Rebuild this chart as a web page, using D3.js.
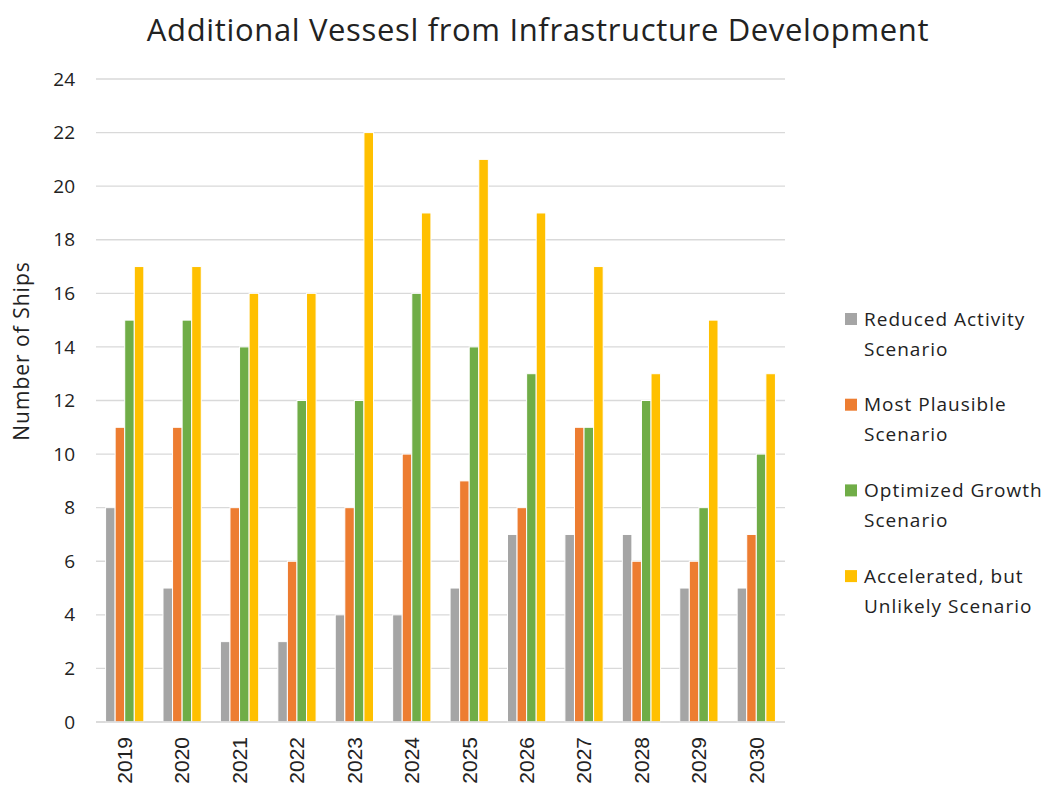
<!DOCTYPE html>
<html>
<head>
<meta charset="utf-8">
<script src="https://cdn.jsdelivr.net/npm/d3@7"></script>
<style>
  body { margin: 0; background: #fff; }
</style>
</head>
<body>
<div id="root"></div>
<script>
var years = ["2019", "2020", "2021", "2022", "2023", "2024", "2025", "2026", "2027", "2028", "2029", "2030"];
var seriesNames = [
  ["Reduced Activity", "Scenario"],
  ["Most Plausible", "Scenario"],
  ["Optimized Growth", "Scenario"],
  ["Accelerated, but", "Unlikely Scenario"]
];
var reduced = [8, 5, 3, 3, 4, 4, 5, 7, 7, 7, 5, 5];
var plausible = [11, 11, 8, 6, 8, 10, 9, 8, 11, 6, 6, 7];
var optimized = [15, 15, 14, 12, 12, 16, 14, 13, 11, 12, 8, 10];
var accelerated = [17, 17, 16, 16, 22, 19, 21, 19, 17, 13, 15, 13];
var yTicks = [0, 2, 4, 6, 8, 10, 12, 14, 16, 18, 20, 22, 24];

var colors = ["#A5A5A5", "#ED7D31", "#70AD47", "#FFC000"];
var allSeries = [reduced, plausible, optimized, accelerated];
var font = "'Open Sans', sans-serif";

var w = 1048, h = 789;
var margin = {top: 79, right: 263, bottom: 67, left: 96};
var innerW = w - margin.left - margin.right;
var innerH = h - margin.top - margin.bottom;

var svg = d3.select("#root").append("svg").attr("width", w).attr("height", h);
svg.append("rect").attr("width", w).attr("height", h).attr("fill", "white");

var g = svg.append("g").attr("transform", "translate(" + margin.left + "," + margin.top + ")");

var x0 = d3.scaleBand().domain(years).range([0, innerW]).paddingInner(1 / 3).paddingOuter(1 / 6);
var x1 = d3.scaleBand().domain(d3.range(4)).range([0, x0.bandwidth()]);
var y = d3.scaleLinear().domain([0, 24]).range([innerH, 0]);

// gridlines
g.selectAll(".grid").data(yTicks).enter().append("line")
  .attr("x1", 0).attr("x2", innerW)
  .attr("y1", function(d) { return y(d); }).attr("y2", function(d) { return y(d); })
  .attr("stroke", "#d9d9d9").attr("stroke-width", 1.3);

// y tick labels
g.selectAll(".ylab").data(yTicks).enter().append("text")
  .attr("x", -21).attr("y", function(d) { return y(d); })
  .attr("dy", "0.35em").attr("text-anchor", "end")
  .attr("font-family", font).attr("font-size", "19px").attr("fill", "#222")
  .text(function(d) { return d; });

// bars
var groups = g.selectAll(".year").data(years).enter().append("g")
  .attr("transform", function(d) { return "translate(" + x0(d) + ",0)"; });
groups.selectAll("rect").data(function(d, i) {
  return allSeries.map(function(s, k) { return {k: k, v: s[i]}; });
}).enter().append("rect")
  .attr("x", function(d) { return x1(d.k); })
  .attr("y", function(d) { return y(d.v); })
  .attr("width", x1.bandwidth())
  .attr("height", function(d) { return innerH - y(d.v); })
  .attr("fill", function(d) { return colors[d.k]; })
  .attr("stroke", "white").attr("stroke-width", 1);

// x axis line
g.append("line").attr("x1", 0).attr("x2", innerW).attr("y1", innerH).attr("y2", innerH)
  .attr("stroke", "#d9d9d9").attr("stroke-width", 1.5);

// x labels rotated
g.selectAll(".xlab").data(years).enter().append("text")
  .attr("transform", function(d) {
    return "translate(" + (x0(d) + x0.bandwidth() / 2) + "," + (innerH + 15) + ") rotate(-90)";
  })
  .attr("text-anchor", "end").attr("dy", "0.35em")
  .attr("font-family", "'Liberation Sans', Arial, sans-serif").attr("font-size", "21px").attr("fill", "#222")
  .text(function(d) { return d; });

// y axis title
svg.append("text")
  .attr("transform", "translate(29,351) rotate(-90)")
  .attr("text-anchor", "middle")
  .attr("font-family", font).attr("font-size", "21px").attr("letter-spacing", "1px").attr("fill", "#222")
  .text("Number of Ships");

// title
svg.append("text").attr("x", 538).attr("y", 41).attr("text-anchor", "middle")
  .attr("font-family", font).attr("font-size", "31px").attr("letter-spacing", "0.65px").attr("fill", "#222")
  .text("Additional Vessesl from Infrastructure Development");

// legend
var legend = svg.selectAll(".legend").data(seriesNames).enter().append("g")
  .attr("transform", function(d, i) { return "translate(845," + (319 + i * 85.7) + ")"; });
legend.append("rect").attr("x", 0).attr("y", -6).attr("width", 12).attr("height", 12)
  .attr("fill", function(d, i) { return colors[i]; });
legend.append("text").attr("x", 19).attr("y", 0).attr("dy", "0.35em")
  .attr("font-family", font).attr("font-size", "19px").attr("letter-spacing", "1px").attr("fill", "#222")
  .text(function(d) { return d[0]; });
legend.append("text").attr("x", 19).attr("y", 30).attr("dy", "0.35em")
  .attr("font-family", font).attr("font-size", "19px").attr("letter-spacing", "1px").attr("fill", "#222")
  .text(function(d) { return d[1]; });
</script>
</body>
</html>
